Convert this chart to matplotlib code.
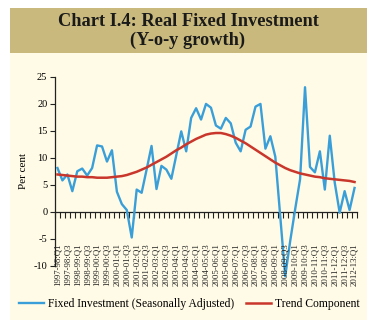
import numpy as np
import matplotlib
matplotlib.use("Agg")
import matplotlib.pyplot as plt
from matplotlib.patches import Rectangle

plt.rcParams['font.family'] = ['Liberation Serif', 'DejaVu Serif']
plt.rcParams['axes.unicode_minus'] = False

# quarters 1997-98:Q1 .. 2012-13:Q1
quarters = [f"{1997 + k // 4}-{(1998 + k // 4) % 100:02d}:Q{k % 4 + 1}" for k in range(61)]

fixed_inv = [8.1, 5.8, 6.9, 3.8, 7.5, 8.0, 6.7, 8.1, 12.3, 12.1,
             9.3, 11.4, 3.7, 1.4, 0.3, -4.8, 4.1, 3.5, 7.8, 12.2,
             4.2, 8.5, 7.8, 6.1, 10.5, 14.9, 11.2, 17.4, 19.2, 17.1,
             20.0, 19.3, 16.0, 15.4, 17.4, 16.4, 12.8, 11.2, 15.2, 15.8,
             19.5, 20.0, 11.7, 14.0, 10.2, -0.9, -12.0, -5.5, 0.4, 6.0,
             23.1, 8.3, 7.3, 11.2, 4.1, 14.1, 5.4, -0.2, 3.8, 0.3,
             4.4]

trend = [6.9, 6.8, 6.7, 6.6, 6.5, 6.5, 6.4, 6.4, 6.3, 6.3,
         6.3, 6.4, 6.5, 6.6, 6.8, 7.1, 7.4, 7.8, 8.2, 8.7,
         9.2, 9.7, 10.2, 10.8, 11.4, 11.9, 12.5, 13.0, 13.5, 13.9,
         14.3, 14.5, 14.6, 14.6, 14.4, 14.1, 13.7, 13.2, 12.7, 12.1,
         11.5, 10.9, 10.3, 9.7, 9.1, 8.6, 8.1, 7.7, 7.4, 7.1,
         6.9, 6.7, 6.5, 6.4, 6.2, 6.1, 6.0, 5.9, 5.8, 5.7,
         5.5]

y_ticks = [-10, -5, 0, 5, 10, 15, 20, 25]

blue = '#3a9fd8'
red = '#c9362b'

fig = plt.figure(figsize=(3.9, 3.28), dpi=100)
fig.patch.set_facecolor('white')

# panel backgrounds
fig.add_artist(Rectangle((10 / 390, 1 - 320 / 328), 357 / 390, (320 - 53) / 328,
                         transform=fig.transFigure, facecolor='#fffbe6', edgecolor='none', zorder=0))
fig.add_artist(Rectangle((10 / 390, 1 - 53 / 328), 357 / 390, 45 / 328,
                         transform=fig.transFigure, facecolor='#c9b97c', edgecolor='none', zorder=0))
fig.text(188 / 390, 1 - 21 / 328, 'Chart I.4: Real Fixed Investment', ha='center', va='center',
         fontsize=13.2, fontweight='bold', color='#1a1a1a')
fig.text(188 / 390, 1 - 40 / 328, '(Y-o-y growth)', ha='center', va='center',
         fontsize=13.2, fontweight='bold', color='#1a1a1a')

ax = fig.add_axes([55 / 390, 1 - 265.5 / 328, 302 / 390, 188.5 / 328])
ax.set_facecolor('none')

x = np.arange(len(quarters))
ax.plot(x, fixed_inv, color=blue, lw=1.7, label='Fixed Investment (Seasonally Adjusted)',
        clip_on=False, zorder=3)
ax.plot(x, trend, color=red, lw=1.8, label='Trend Component', zorder=4)

ax.set_xlim(-0.5, 60.5)
ax.set_ylim(-10, 25)

ax.spines['top'].set_visible(False)
ax.spines['right'].set_visible(False)
ax.spines['bottom'].set_position(('data', 0))
ax.spines['bottom'].set_color('#222222')
ax.spines['left'].set_color('#222222')
ax.spines['bottom'].set_linewidth(0.9)
ax.spines['left'].set_linewidth(0.9)

ax.set_xticks(np.arange(-0.5, 61, 1))
ax.tick_params(axis='x', direction='out', length=4, width=0.8, labelbottom=False, color='#222222')
ax.set_yticks(y_ticks)
ax.set_yticklabels([str(v) for v in y_ticks])
ax.tick_params(axis='y', direction='out', length=3.5, width=0.8, labelsize=7.5, pad=2, color='#222222')
ax.set_ylabel('Per cent', fontsize=8, labelpad=4)

for i in range(0, len(quarters), 2):
    ax.text(i, -5.9, quarters[i], rotation=90, ha='center', va='top', fontsize=6.3, color='#222222')

fig.legend(loc='center', bbox_to_anchor=(0.485, 1 - 304 / 328), ncol=2, frameon=False,
           fontsize=8.4, handlelength=2.2, handletextpad=0.3, columnspacing=1.0)

fig.savefig('out.png', dpi=100)
